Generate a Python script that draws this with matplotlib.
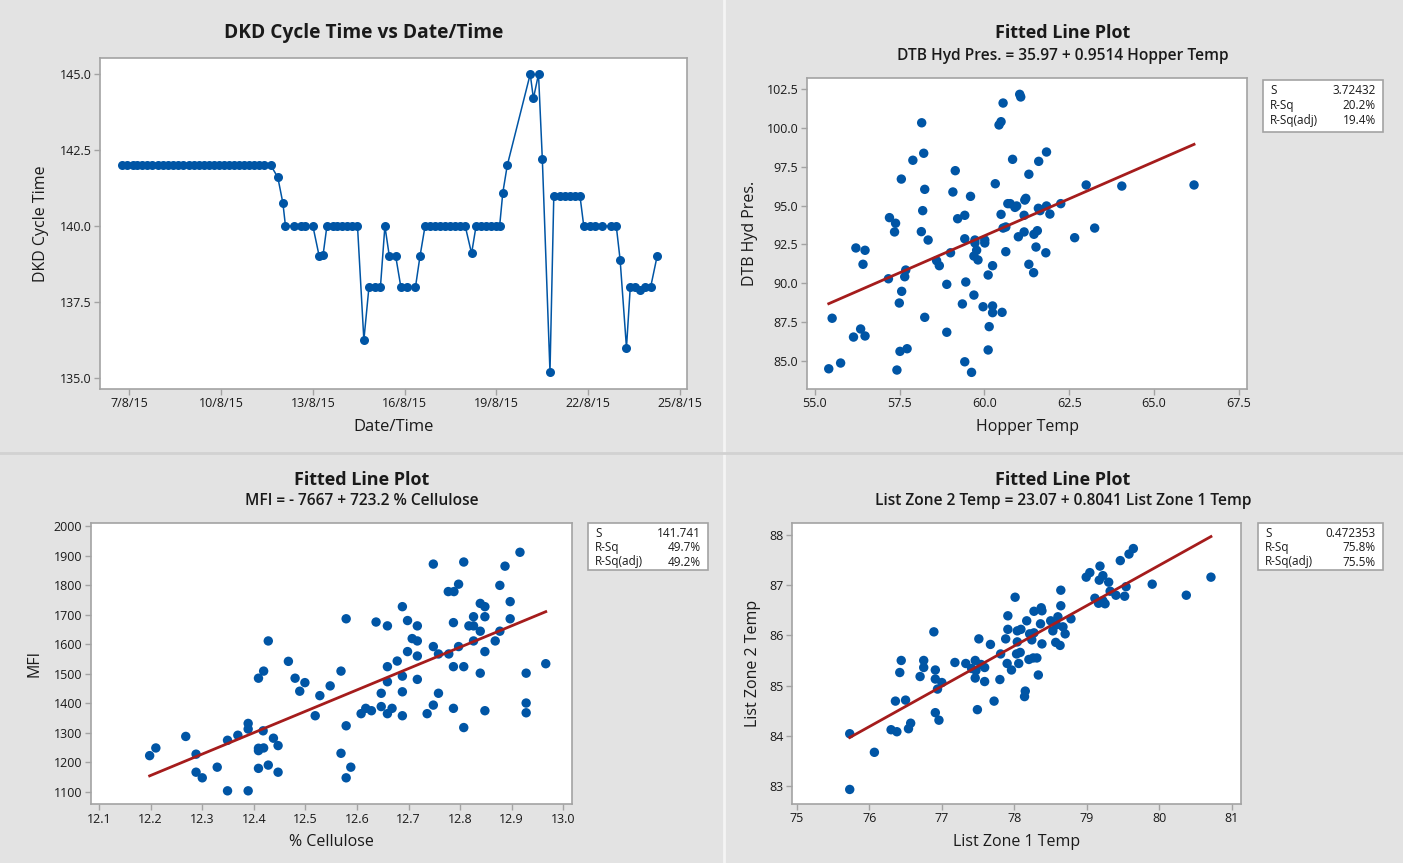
import matplotlib
matplotlib.use("Agg")
import matplotlib.pyplot as plt
from matplotlib.lines import Line2D
from matplotlib.patches import Rectangle
import numpy as np
import pandas as pd

plt.rcParams['font.family'] = ['Open Sans', 'DejaVu Sans']

# ---------------- DKD cycle time log ----------------
dkd_time = [
    "2015-08-06 18:30", "2015-08-06 22:30", "2015-08-07 02:30", "2015-08-07 06:00",
    "2015-08-07 10:00", "2015-08-07 14:00", "2015-08-07 18:00", "2015-08-07 22:30",
    "2015-08-08 02:30", "2015-08-08 06:30", "2015-08-08 10:30", "2015-08-08 14:30",
    "2015-08-08 18:30", "2015-08-08 22:30", "2015-08-09 02:30", "2015-08-09 06:30",
    "2015-08-09 10:30", "2015-08-09 14:30", "2015-08-09 18:30", "2015-08-09 22:30",
    "2015-08-10 02:30", "2015-08-10 06:30", "2015-08-10 10:30", "2015-08-10 14:00",
    "2015-08-10 18:00", "2015-08-10 22:00", "2015-08-11 02:00", "2015-08-11 06:00",
    "2015-08-11 10:00", "2015-08-11 15:00",
    "2015-08-11 20:30", "2015-08-12 00:30", "2015-08-12 02:30", "2015-08-12 09:00",
    "2015-08-12 14:30", "2015-08-12 18:00", "2015-08-13 00:00", "2015-08-13 05:00",
    "2015-08-13 08:00", "2015-08-13 11:00", "2015-08-13 15:30", "2015-08-13 19:00",
    "2015-08-13 23:00", "2015-08-14 03:00", "2015-08-14 07:00", "2015-08-14 11:00",
    "2015-08-14 16:00", "2015-08-14 20:00", "2015-08-15 00:30", "2015-08-15 05:00",
    "2015-08-15 08:30", "2015-08-15 12:00", "2015-08-15 17:00", "2015-08-15 21:00",
    "2015-08-16 01:30", "2015-08-16 08:30", "2015-08-16 12:00", "2015-08-16 16:00",
    "2015-08-16 20:00", "2015-08-17 00:00", "2015-08-17 03:30", "2015-08-17 07:30",
    "2015-08-17 11:30", "2015-08-17 15:30", "2015-08-17 19:30", "2015-08-17 23:30",
    "2015-08-18 04:30", "2015-08-18 08:00", "2015-08-18 12:00", "2015-08-18 16:00",
    "2015-08-18 20:00", "2015-08-19 00:00", "2015-08-19 02:30", "2015-08-19 05:00",
    "2015-08-19 08:30", "2015-08-20 02:30", "2015-08-20 05:00", "2015-08-20 09:00",
    "2015-08-20 12:00", "2015-08-20 18:00", "2015-08-20 21:00", "2015-08-21 01:30",
    "2015-08-21 05:30", "2015-08-21 09:30", "2015-08-21 13:30", "2015-08-21 17:30",
    "2015-08-21 20:30", "2015-08-22 01:00", "2015-08-22 05:00", "2015-08-22 10:30",
    "2015-08-22 18:00", "2015-08-22 22:00", "2015-08-23 01:00", "2015-08-23 06:00",
    "2015-08-23 09:00", "2015-08-23 12:30", "2015-08-23 17:00", "2015-08-23 20:30",
    "2015-08-24 01:00", "2015-08-24 06:00",
]
dkd_cycle = [
    142, 142, 142, 142, 142, 142, 142, 142, 142, 142,
    142, 142, 142, 142, 142, 142, 142, 142, 142, 142,
    142, 142, 142, 142, 142, 142, 142, 142, 142, 142,
    141.6, 140.75, 140, 140, 140, 140, 140, 139.0, 139.05, 140,
    140, 140, 140, 140, 140, 140, 136.25, 138, 138, 138,
    140, 139, 139, 138, 138, 138, 139, 140, 140, 140,
    140, 140, 140, 140, 140, 140, 139.1, 140, 140, 140,
    140, 140, 140, 141.1, 142, 145, 144.2, 145, 142.2, 135.2,
    141, 141, 141, 141, 141, 141, 140, 140, 140, 140,
    140, 140, 138.9, 136.0, 138, 138, 137.9, 138, 138, 139,
]
dkd_tick_dates = ["2015-08-07", "2015-08-10", "2015-08-13", "2015-08-16",
                  "2015-08-19", "2015-08-22", "2015-08-25"]
dkd_tick_labels = ["7/8/15", "10/8/15", "13/8/15", "16/8/15",
                   "19/8/15", "22/8/15", "25/8/15"]
dkd_yticks = [135.0, 137.5, 140.0, 142.5, 145.0]

# ---------------- Hopper temp vs DTB hydraulic pressure ----------------
hopper_temp = [
    55.41, 55.76, 55.51, 56.21, 56.48, 56.42, 56.35, 56.14, 56.48, 57.17,
    57.20, 57.38, 57.35, 57.55, 57.89, 58.21, 58.15, 58.24, 58.18, 58.14,
    58.34, 57.68, 57.65, 57.56, 57.49, 58.24, 57.72, 57.51, 57.42, 58.59,
    58.67, 58.89, 58.89, 59.00, 59.14, 59.07, 59.21, 59.42, 59.59, 59.42,
    59.35, 59.45, 59.69, 59.42, 59.62, 59.72, 59.72, 59.77, 59.69, 59.81,
    60.01, 60.01, 60.11, 60.24, 59.96, 60.24, 60.24, 60.52, 60.14, 60.11,
    60.32, 60.43, 60.49, 60.55, 61.04, 61.07, 60.83, 60.49, 60.55, 60.63,
    60.63, 60.69, 60.76, 60.90, 60.95, 61.19, 61.22, 61.17, 61.00, 61.17,
    61.31, 61.60, 61.31, 61.45, 61.52, 61.46, 61.56, 61.59, 61.83, 61.83,
    61.64, 61.93, 62.25, 63.00, 64.05, 66.18, 62.66, 63.25, 61.81,
]
dtb_hyd_pres = [
    84.50, 84.87, 87.75, 92.27, 92.12, 91.22, 87.06, 86.54, 86.61, 90.29,
    94.22, 93.86, 93.30, 96.70, 97.91, 98.36, 100.32, 96.04, 94.67, 93.32,
    92.78, 90.85, 90.42, 89.48, 88.73, 87.81, 85.79, 85.62, 84.42, 91.45,
    91.13, 89.93, 86.85, 91.96, 97.24, 95.87, 94.15, 94.37, 95.59, 92.86,
    88.67, 90.08, 89.24, 84.95, 84.27, 92.78, 92.59, 92.12, 91.75, 91.50,
    92.78, 92.59, 90.53, 91.13, 88.49, 88.54, 88.11, 88.13, 87.21, 85.71,
    96.40, 100.18, 100.39, 101.59, 102.15, 101.98, 97.97, 94.43, 93.55, 93.62,
    92.03, 95.12, 95.12, 94.88, 94.97, 95.35, 95.46, 94.37, 92.99, 93.30,
    97.01, 97.84, 91.22, 90.68, 92.33, 93.15, 93.38, 94.82, 98.44, 94.97,
    94.67, 94.45, 95.12, 96.32, 96.25, 96.32, 92.93, 93.55, 91.96,
]
hyd_fit = [35.97, 0.9514]           # intercept, slope
hyd_stats = ["3.72432", "20.2%", "19.4%"]
hyd_xticks = [55.0, 57.5, 60.0, 62.5, 65.0, 67.5]
hyd_yticks = [85.0, 87.5, 90.0, 92.5, 95.0, 97.5, 100.0, 102.5]

# ---------------- % Cellulose vs MFI ----------------
cellulose = [
    12.198, 12.210, 12.268, 12.288, 12.288, 12.300, 12.329, 12.349, 12.349, 12.369,
    12.389, 12.389, 12.389, 12.409, 12.419, 12.428, 12.418, 12.409, 12.409, 12.419,
    12.409, 12.428, 12.438, 12.447, 12.447, 12.467, 12.480, 12.489, 12.499, 12.519,
    12.528, 12.548, 12.569, 12.579, 12.579, 12.569, 12.588, 12.579, 12.608, 12.617,
    12.628, 12.637, 12.647, 12.647, 12.659, 12.659, 12.659, 12.659, 12.668, 12.678,
    12.688, 12.688, 12.688, 12.688, 12.698, 12.698, 12.707, 12.717, 12.717, 12.717,
    12.717, 12.736, 12.748, 12.748, 12.748, 12.758, 12.758, 12.777, 12.788, 12.778,
    12.787, 12.787, 12.787, 12.797, 12.797, 12.807, 12.807, 12.807, 12.817, 12.826,
    12.826, 12.826, 12.839, 12.848, 12.848, 12.839, 12.848, 12.839, 12.848, 12.868,
    12.877, 12.877, 12.887, 12.897, 12.897, 12.916, 12.928, 12.928, 12.928, 12.966,
]
mfi = [
    1223, 1249, 1288, 1228, 1167, 1148, 1184, 1104, 1275, 1292,
    1332, 1313, 1104, 1485, 1509, 1611, 1307, 1248, 1240, 1249,
    1180, 1191, 1282, 1257, 1167, 1542, 1485, 1441, 1470, 1358,
    1426, 1459, 1509, 1686, 1324, 1231, 1184, 1148, 1365, 1383,
    1375, 1675, 1434, 1389, 1662, 1524, 1473, 1365, 1383, 1543,
    1727, 1492, 1439, 1358, 1680, 1575, 1619, 1611, 1662, 1560,
    1481, 1365, 1871, 1592, 1394, 1567, 1434, 1778, 1778, 1567,
    1673, 1524, 1383, 1803, 1592, 1878, 1524, 1318, 1662, 1662,
    1693, 1611, 1738, 1727, 1693, 1644, 1575, 1502, 1375, 1611,
    1799, 1644, 1864, 1744, 1686, 1911, 1502, 1401, 1368, 1534,
]
mfi_fit = [-7667, 723.2]
mfi_stats = ["141.741", "49.7%", "49.2%"]
mfi_xticks = [12.1, 12.2, 12.3, 12.4, 12.5, 12.6, 12.7, 12.8, 12.9, 13.0]
mfi_yticks = [1100, 1200, 1300, 1400, 1500, 1600, 1700, 1800, 1900, 2000]

# ---------------- List zone 1 vs zone 2 temperature ----------------
zone1_temp = [
    75.73, 75.73, 76.07, 76.30, 76.38, 76.36, 76.50, 76.54, 76.57, 76.42,
    76.44, 76.70, 76.75, 76.75, 76.89, 76.91, 76.91, 77.00, 76.94, 76.91,
    76.96, 77.18, 77.33, 77.46, 77.41, 77.47, 77.46, 77.54, 77.59, 77.59,
    77.51, 77.49, 77.67, 77.72, 77.80, 77.81, 77.90, 77.96, 77.88, 77.91,
    77.91, 78.01, 78.04, 78.09, 78.04, 78.03, 78.08, 78.06, 78.15, 78.14,
    78.17, 78.24, 78.21, 78.27, 78.20, 78.26, 78.31, 78.33, 78.27, 78.37,
    78.36, 78.38, 78.38, 78.50, 78.53, 78.58, 78.60, 78.64, 78.64, 78.67,
    78.70, 78.57, 78.63, 78.78, 78.99, 79.04, 79.18, 79.17, 79.22, 79.30,
    79.11, 79.16, 79.22, 79.25, 79.32, 79.40, 79.46, 79.54, 79.52, 79.58,
    79.64, 79.90, 80.37, 80.71,
]
zone2_temp = [
    84.04, 82.93, 83.67, 84.12, 84.08, 84.69, 84.71, 84.14, 84.25, 85.26,
    85.50, 85.18, 85.50, 85.36, 86.07, 85.31, 85.13, 85.06, 84.93, 84.46,
    84.31, 85.46, 85.44, 85.50, 85.34, 85.30, 85.15, 85.42, 85.36, 85.08,
    85.93, 84.52, 85.82, 84.69, 85.12, 85.63, 85.44, 85.31, 85.93, 86.12,
    86.39, 86.76, 86.09, 86.12, 85.87, 85.63, 85.66, 85.44, 84.89, 84.78,
    86.29, 85.91, 86.03, 86.05, 85.52, 85.55, 85.55, 85.21, 86.48, 86.55,
    86.23, 85.83, 86.49, 86.29, 86.09, 86.21, 86.37, 86.59, 86.90, 86.17,
    86.03, 85.86, 85.80, 86.33, 87.16, 87.25, 87.38, 87.10, 87.19, 87.06,
    86.74, 86.64, 86.69, 86.63, 86.88, 86.80, 87.49, 86.97, 86.78, 87.62,
    87.73, 87.02, 86.80, 87.16,
]
zone_fit = [23.07, 0.8041]
zone_stats = ["0.472353", "75.8%", "75.5%"]
zone_xticks = [75, 76, 77, 78, 79, 80, 81]
zone_yticks = [83, 84, 85, 86, 87, 88]

stat_names = ["S", "R-Sq", "R-Sq(adj)"]

# ---------------- styling ----------------
BG = '#e3e3e3'
BLUE = '#0055a5'
RED = '#a51c1c'
FRAME = '#a3a3a3'
TXT = '#1a1a1a'

W, H = 1403, 863
fig = plt.figure(figsize=(W / 100, H / 100), dpi=100, facecolor=BG)


def fx(px):
    return px / W


def fy(py):
    return 1 - py / H


def make_axes(left, top, right, bottom):
    ax = fig.add_axes([fx(left), fy(bottom), (right - left) / W, (bottom - top) / H])
    ax.set_facecolor('white')
    for s in ax.spines.values():
        s.set_color(FRAME)
        s.set_linewidth(1.2)
    ax.tick_params(direction='out', length=4, width=1, color=FRAME,
                   labelsize=9, labelcolor=TXT, pad=2)
    return ax


def titles(cx, y_title, title, y_sub=None, sub=None, size=13):
    fig.text(fx(cx), fy(y_title), title, ha='center', va='center',
             fontsize=size, fontweight='bold', color=TXT)
    if sub is not None:
        fig.text(fx(cx), fy(y_sub), sub, ha='center', va='center',
                 fontsize=11.2, fontweight='semibold', color=TXT)


def stats_box(left, top, right, bottom, values, rows_y, pad_l, pad_r):
    fig.patches.append(Rectangle((fx(left), fy(bottom)), (right - left) / W,
                                 (bottom - top) / H, transform=fig.transFigure,
                                 facecolor='white', edgecolor=FRAME, lw=1.2))
    for name, val, ry in zip(stat_names, values, rows_y):
        fig.text(fx(left + pad_l), fy(ry), name, ha='left', va='center',
                 fontsize=8.5, color=TXT)
        fig.text(fx(right - pad_r), fy(ry), val, ha='right', va='center',
                 fontsize=8.5, color=TXT)


def fitted_panel(ax, x, y, fit, xticks, yticks, xfmt, yfmt):
    ax.scatter(x, y, s=46, color=BLUE, edgecolors='none', zorder=3)
    xs = np.linspace(min(x), max(x), 50)
    ax.plot(xs, fit[0] + fit[1] * xs, color=RED, lw=2, zorder=4)
    ax.set_xticks(xticks)
    ax.set_xticklabels([xfmt.format(v) for v in xticks])
    ax.set_yticks(yticks)
    ax.set_yticklabels([yfmt.format(v) for v in yticks])


# panel separators
fig.add_artist(Line2D([fx(724), fx(724)], [0, 1], color='#f4f4f4', lw=2))
fig.add_artist(Line2D([0, 1], [fy(453), fy(453)], color='#d2d2d2', lw=2))

# ---- top left: time series ----
ax1 = make_axes(100, 58, 686.7, 389)
t = pd.to_datetime(dkd_time)
ax1.plot(t, dkd_cycle, color=BLUE, lw=1.1, marker='o', ms=6.5,
         markeredgewidth=0, zorder=3)
ax1.set_xlim(pd.Timestamp("2015-08-06 01:00"), pd.Timestamp("2015-08-25 05:15"))
ax1.set_ylim(134.64, 145.53)
ax1.set_xticks(pd.to_datetime(dkd_tick_dates))
ax1.set_xticklabels(dkd_tick_labels)
ax1.set_yticks(dkd_yticks)
ax1.set_yticklabels(["{:.1f}".format(v) for v in dkd_yticks])
ax1.set_xlabel("Date/Time", fontsize=12, color=TXT, labelpad=6)
ax1.set_ylabel("DKD Cycle Time", fontsize=11.5, color=TXT, labelpad=8)
titles(364, 33, "DKD Cycle Time vs Date/Time", size=13.8)

# ---- top right: hopper temp ----
ax2 = make_axes(806.7, 78, 1247.3, 389)
fitted_panel(ax2, hopper_temp, dtb_hyd_pres, hyd_fit, hyd_xticks, hyd_yticks,
             "{:.1f}", "{:.1f}")
ax2.set_xlim(54.76, 67.75)
ax2.set_ylim(83.2, 103.2)
ax2.set_xlabel("Hopper Temp", fontsize=11.5, color=TXT, labelpad=6)
ax2.set_ylabel("DTB Hyd Pres.", fontsize=11.5, color=TXT, labelpad=6)
titles(1063, 33, "Fitted Line Plot", 56,
       "DTB Hyd Pres. = 35.97 + 0.9514 Hopper Temp")
stats_box(1263, 80, 1383, 132, hyd_stats, [90, 105, 120.5], 7, 7)

# ---- bottom left: cellulose ----
ax3 = make_axes(90.7, 523.3, 571.7, 804.3)
fitted_panel(ax3, cellulose, mfi, mfi_fit, mfi_xticks, mfi_yticks,
             "{:.1f}", "{:d}")
ax3.set_xlim(12.0837, 13.0163)
ax3.set_ylim(1058.4, 2009)
ax3.set_xlabel("% Cellulose", fontsize=11.5, color=TXT, labelpad=6)
ax3.set_ylabel("MFI", fontsize=11.5, color=TXT, labelpad=8)
titles(362, 480, "Fitted Line Plot", 501, "MFI = - 7667 + 723.2 % Cellulose")
stats_box(588.3, 523.3, 708.3, 570, mfi_stats, [533, 547.5, 562], 7, 7)

# ---- bottom right: list zones ----
ax4 = make_axes(791.7, 522.7, 1240.7, 804)
fitted_panel(ax4, zone1_temp, zone2_temp, zone_fit, zone_xticks, zone_yticks,
             "{:d}", "{:d}")
ax4.set_xlim(74.93, 81.12)
ax4.set_ylim(82.64, 88.245)
ax4.set_xlabel("List Zone 1 Temp", fontsize=11.5, color=TXT, labelpad=6)
ax4.set_ylabel("List Zone 2 Temp", fontsize=11.5, color=TXT, labelpad=6)
titles(1063, 480, "Fitted Line Plot", 501,
       "List Zone 2 Temp = 23.07 + 0.8041 List Zone 1 Temp")
stats_box(1258, 522.7, 1383, 570, zone_stats, [533, 547.5, 562], 7, 7)

fig.savefig("out.png", dpi=100, facecolor=BG)
